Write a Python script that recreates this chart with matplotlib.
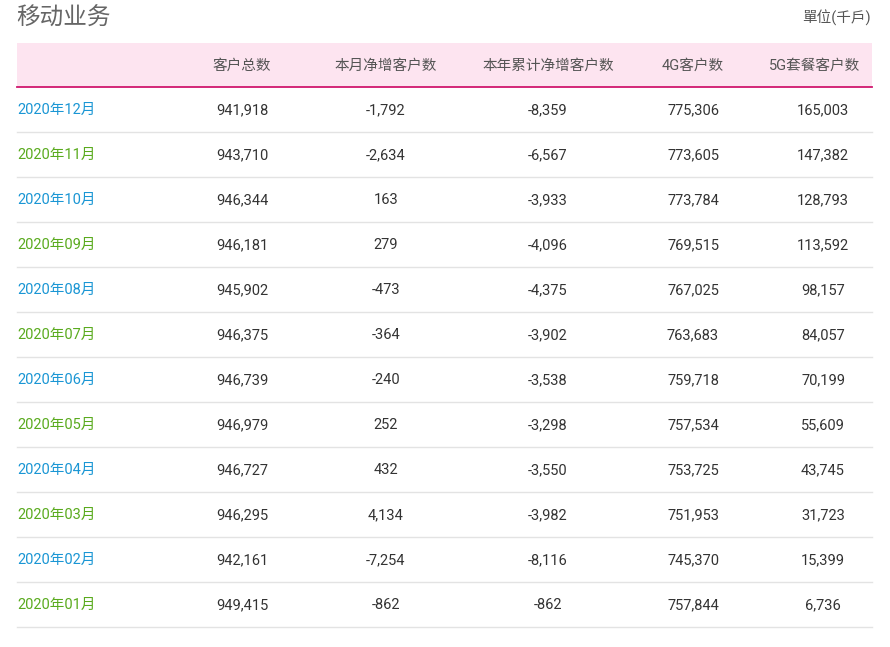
import matplotlib
matplotlib.use("Agg")
import matplotlib.pyplot as plt
from matplotlib.patches import Rectangle

title = "移动业务"
unit = "單位(千戶)"
headers = ["客户总数", "本月净增客户数", "本年累计净增客户数", "4G客户数", "5G套餐客户数"]
months = ["2020年12月", "2020年11月", "2020年10月", "2020年09月", "2020年08月", "2020年07月",
          "2020年06月", "2020年05月", "2020年04月", "2020年03月", "2020年02月", "2020年01月"]
total = [941918, 943710, 946344, 946181, 945902, 946375, 946739, 946979, 946727, 946295, 942161, 949415]
net_month = [-1792, -2634, 163, 279, -473, -364, -240, 252, 432, 4134, -7254, -862]
net_year = [-8359, -6567, -3933, -4096, -4375, -3902, -3538, -3298, -3550, -3982, -8116, -862]
g4 = [775306, 773605, 773784, 769515, 767025, 763683, 759718, 757534, 753725, 751953, 745370, 757844]
g5 = [165003, 147382, 128793, 113592, 98157, 84057, 70199, 55609, 43745, 31723, 15399, 6736]

plt.rcParams["font.family"] = ["Roboto", "Noto Sans CJK SC", "DejaVu Sans"]
fig = plt.figure(figsize=(8.9, 6.47), dpi=100)
ax = fig.add_axes([0, 0, 1, 1])
ax.set_xlim(0, 890); ax.set_ylim(647, 0); ax.axis("off")

ax.text(16, 18, title, fontsize=17, color="#666666", va="center", ha="left")
ax.text(871, 18, unit, fontsize=10.5, color="#555555", va="center", ha="right")

ax.add_patch(Rectangle((17, 43), 855, 44, facecolor="#fde4f0", edgecolor="none"))
ax.plot([17, 872], [87, 87], color="#d0176e", lw=1.3)
col_x = [242, 386, 548, 693, 815]
for x, h in zip(col_x, headers):
    ax.text(x, 66, h, fontsize=10.5, color="#555555", ha="center", va="center")

cols = [total, net_month, net_year, g4, g5]
for i, m in enumerate(months):
    y = 110 + 45 * i
    color = "#1a96d4" if i % 2 == 0 else "#5aab1e"
    ax.text(17, y, m, fontsize=10.5, color=color, ha="left", va="center")
    for x, c in zip(col_x, cols):
        xx = 823 if c is g5 else x
        ax.text(xx, y, f"{c[i]:,}", fontsize=10.5, color="#333333", ha="center", va="center")
    ax.plot([17, 872], [y + 22, y + 22], color="#e3e3e3", lw=1)

fig.savefig("out.png", dpi=100)
